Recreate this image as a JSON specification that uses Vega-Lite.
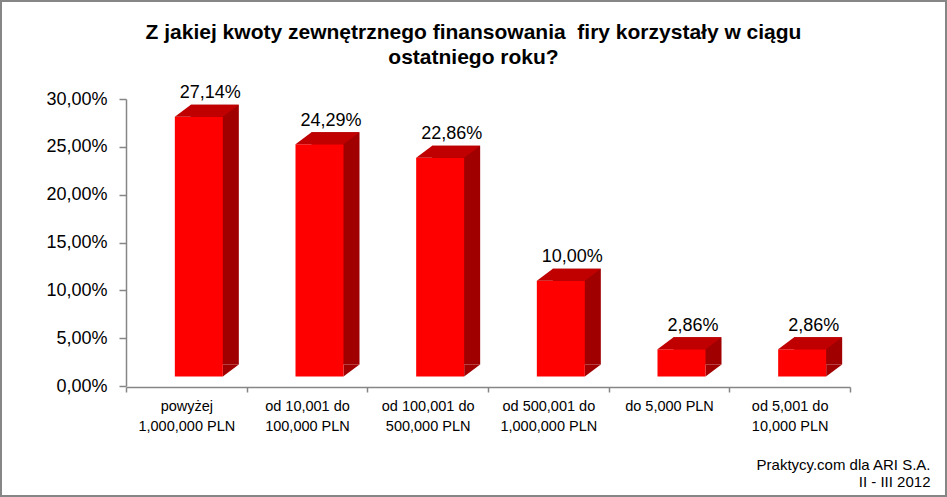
{
  "$schema": "https://vega.github.io/schema/vega-lite/v6.json",
  "width": 945,
  "height": 495,
  "autosize": {"type": "none"},
  "padding": 1,
  "background": "white",
  "config": {
    "locale": {"number": {"decimal": ",", "thousands": " ", "grouping": [3], "currency": ["", " zł"]}},
    "view": {"stroke": "#868686", "strokeWidth": 2},
    "font": "Liberation Sans"
  },
  "title": {
    "text": ["Z jakiej kwoty zewnętrznego finansowania \u00a0firy korzystały w ciągu", "ostatniego roku?"],
    "fontSize": 21,
    "fontWeight": "bold",
    "color": "#000000",
    "lineHeight": 25,
    "anchor": "middle",
    "frame": "group",
    "baseline": "bottom",
    "offset": -88
  },
  "data": {
    "values": [
      {"kwota": "powyżej\n1,000,000 PLN", "udzial": 0.2714},
      {"kwota": "od 10,001 do\n100,000 PLN", "udzial": 0.2429},
      {"kwota": "od 100,001 do\n500,000 PLN", "udzial": 0.2286},
      {"kwota": "od 500,001 do\n1,000,000 PLN", "udzial": 0.1},
      {"kwota": "do 5,000 PLN", "udzial": 0.0286},
      {"kwota": "od 5,001 do\n10,000 PLN", "udzial": 0.0286}
    ]
  },
  "encoding": {
    "x": {
      "field": "kwota",
      "type": "nominal",
      "sort": null,
      "scale": {"range": [125, 849], "paddingInner": 0, "paddingOuter": 0},
      "axis": {
        "title": ["Praktycy.com dla ARI S.A.", "II - III 2012"],
        "titleX": 929,
        "titleY": 82,
        "titleAlign": "right",
        "titleBaseline": "alphabetic",
        "titleFontSize": 15,
        "titleFontWeight": "normal",
        "titleColor": "#000000",
        "titleLineHeight": 17,
        "offset": -109,
        "labelAngle": 0,
        "labelExpr": "split(datum.label, '\\n')",
        "labelFontSize": 14.5,
        "labelLineHeight": 20,
        "labelColor": "#000000",
        "labelPadding": 7,
        "labelBaseline": "top",
        "tickBand": "extent",
        "tickSize": 5,
        "tickColor": "#868686",
        "tickWidth": 1.5,
        "domainColor": "#868686",
        "domainWidth": 1.5
      }
    },
    "y": {
      "field": "udzial",
      "type": "quantitative",
      "scale": {"domain": [0, 0.3], "range": [385, 98]},
      "axis": {
        "values": [0, 0.05, 0.1, 0.15, 0.2, 0.25, 0.3],
        "format": ".2%",
        "title": null,
        "offset": -125,
        "grid": false,
        "domainColor": "#868686",
        "domainWidth": 1.5,
        "tickColor": "#868686",
        "tickSize": 7,
        "tickWidth": 1.5,
        "labelFontSize": 18,
        "labelColor": "#000000",
        "labelPadding": 12
      }
    }
  },
  "layer": [
    {
      "mark": {"type": "bar", "width": 48, "xOffset": 28.5, "yOffset": -21.5, "y2Offset": -21.5, "color": "#A00000"},
      "encoding": {"y2": {"datum": 0}}
    },
    {
      "mark": {"type": "point", "shape": "M36.5,-9.5 L52.5,-21.5 L36.5,-21.5 Z", "size": 4, "filled": true, "opacity": 1, "strokeWidth": 0, "color": "#A00000"},
      "encoding": {"y": {"datum": 0}}
    },
    {
      "mark": {"type": "bar", "width": 48, "xOffset": 12.5, "yOffset": -9.5, "y2Offset": -9.5, "color": "#FF0000"},
      "encoding": {"y2": {"datum": 0}}
    },
    {
      "mark": {"type": "point", "shape": "M-11.5,-9.5 L36.5,-9.5 L52.5,-21.5 L4.5,-21.5 Z", "size": 4, "filled": true, "opacity": 1, "strokeWidth": 0, "color": "#C00000"}
    },
    {
      "mark": {"type": "text", "fontSize": 18, "color": "#000000", "dx": 24, "dy": -28, "baseline": "alphabetic"},
      "encoding": {"text": {"field": "udzial", "type": "quantitative", "format": ".2%"}}
    }
  ]
}
